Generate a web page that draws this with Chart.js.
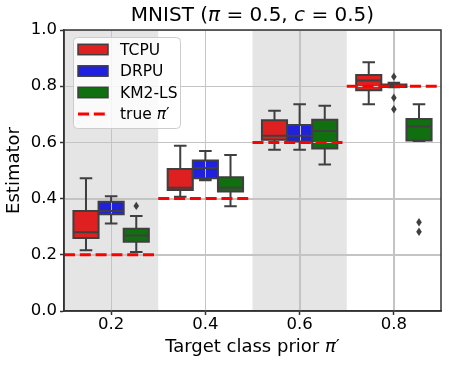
<!DOCTYPE html>
<html>
<head>
<meta charset="utf-8">
<script src="https://cdn.jsdelivr.net/npm/chart.js@4.4.0/dist/chart.umd.min.js"></script>
<style>
  html, body { margin: 0; padding: 0; background: #fff; }
</style>
</head>
<body>
<canvas id="myChart" width="449" height="366"></canvas>
<script>
// categories on the x axis (target class prior)
const categories = ['0.2', '0.4', '0.6', '0.8'];
const truePrior = [0.2, 0.4, 0.6, 0.8];
const yTicks = [0.0, 0.2, 0.4, 0.6, 0.8, 1.0];

// box stats per category: [lower whisker, q1, median, q3, upper whisker]
const tcpuStats = [
    [0.216, 0.260, 0.280, 0.356, 0.472],
    [0.407, 0.431, 0.439, 0.505, 0.588],
    [0.574, 0.609, 0.624, 0.679, 0.713],
    [0.736, 0.786, 0.820, 0.840, 0.885]
];
const drpuStats = [
    [0.311, 0.344, 0.356, 0.389, 0.408],
    [0.465, 0.472, 0.509, 0.536, 0.569],
    [0.574, 0.603, 0.624, 0.662, 0.736],
    [0.796, 0.797, 0.800, 0.806, 0.812]
];
const km2Stats = [
    [0.210, 0.246, 0.269, 0.293, 0.338],
    [0.373, 0.425, 0.439, 0.476, 0.555],
    [0.521, 0.578, 0.641, 0.681, 0.730],
    [0.605, 0.607, 0.657, 0.683, 0.736]
];

// outliers per category
const tcpuOutliers = [[], [], [], []];
const drpuOutliers = [[], [], [], [0.834, 0.759, 0.718]];
const km2Outliers = [[0.374], [], [], [0.316, 0.282]];

const FONT = "'DejaVu Sans', sans-serif";
const EDGE = '#3f3f3f';
const GRID = '#c4c4c4';
const SPINE = '#333333';
const shadedGroups = [0, 2];

// draws text made of normal / italic pieces
function drawRich(ctx, parts, x, y, size, align) {
    let total = 0;
    parts.forEach(p => {
        ctx.font = (p[1] ? 'italic ' : '') + size + 'px ' + FONT;
        p.w = ctx.measureText(p[0]).width;
        total += p.w;
    });
    let cx = align === 'center' ? x - total / 2 : x;
    ctx.textAlign = 'left';
    parts.forEach(p => {
        ctx.font = (p[1] ? 'italic ' : '') + size + 'px ' + FONT;
        ctx.fillText(p[0], cx, y);
        cx += p.w;
    });
}

// gray bands behind alternating groups
const shadePlugin = {
    id: 'shade',
    beforeDraw(chart) {
        const ctx = chart.ctx, x = chart.scales.x, area = chart.chartArea;
        const step = x.getPixelForValue(1) - x.getPixelForValue(0);
        ctx.save();
        ctx.fillStyle = '#e5e5e5';
        shadedGroups.forEach(i => {
            const c = x.getPixelForValue(i);
            ctx.fillRect(c - step / 2, area.top, step, area.bottom - area.top);
        });
        ctx.restore();
    }
};

// whiskers, medians, outliers and the true prior lines
const boxPlugin = {
    id: 'boxes',
    afterDatasetsDraw(chart) {
        const ctx = chart.ctx, x = chart.scales.x, y = chart.scales.y, area = chart.chartArea;
        const step = x.getPixelForValue(1) - x.getPixelForValue(0);
        ctx.save();

        // grid sits on top of the box fills, like in matplotlib
        ctx.strokeStyle = GRID;
        ctx.lineWidth = 1;
        ctx.beginPath();
        y.ticks.forEach(t => {
            if (t.value <= y.min || t.value >= y.max) return;
            const py = Math.round(y.getPixelForValue(t.value)) + 0.5;
            ctx.moveTo(area.left, py);
            ctx.lineTo(area.right, py);
        });
        categories.forEach((c, i) => {
            const px = Math.round(x.getPixelForValue(i)) + 0.5;
            ctx.moveTo(px, area.top);
            ctx.lineTo(px, area.bottom);
        });
        ctx.stroke();

        ctx.strokeStyle = EDGE;
        ctx.fillStyle = EDGE;
        ctx.lineWidth = 2;
        chart.data.datasets.forEach((ds, d) => {
            const meta = chart.getDatasetMeta(d);
            meta.data.forEach((bar, i) => {
                const s = ds.stats[i];
                const cx = bar.x, w = bar.width;
                const p = s.map(v => y.getPixelForValue(v));
                ctx.beginPath();
                // box outline
                ctx.rect(cx - w / 2, p[3], w, p[1] - p[3]);
                // whiskers
                ctx.moveTo(cx, p[3]); ctx.lineTo(cx, p[4]);
                ctx.moveTo(cx, p[1]); ctx.lineTo(cx, p[0]);
                // caps
                ctx.moveTo(cx - w / 4, p[4]); ctx.lineTo(cx + w / 4, p[4]);
                ctx.moveTo(cx - w / 4, p[0]); ctx.lineTo(cx + w / 4, p[0]);
                // median
                ctx.moveTo(cx - w / 2, p[2]); ctx.lineTo(cx + w / 2, p[2]);
                ctx.stroke();
                // outliers as thin diamonds
                ds.outliers[i].forEach(v => {
                    const py = y.getPixelForValue(v);
                    ctx.beginPath();
                    ctx.moveTo(cx, py - 4.2);
                    ctx.lineTo(cx + 2.8, py);
                    ctx.lineTo(cx, py + 4.2);
                    ctx.lineTo(cx - 2.8, py);
                    ctx.closePath();
                    ctx.fill();
                });
            });
        });

        // true prior dashed lines
        ctx.strokeStyle = '#ff0000';
        ctx.lineWidth = 3;
        ctx.setLineDash([11, 4.8]);
        truePrior.forEach((v, i) => {
            const c = x.getPixelForValue(i);
            const py = y.getPixelForValue(v);
            ctx.beginPath();
            ctx.moveTo(c - step / 2, py);
            ctx.lineTo(c + step / 2, py);
            ctx.stroke();
        });
        ctx.restore();
    },
    afterDraw(chart) {
        const ctx = chart.ctx, area = chart.chartArea;
        ctx.save();

        // frame
        ctx.strokeStyle = SPINE;
        ctx.lineWidth = 1.5;
        ctx.strokeRect(area.left, area.top, area.right - area.left, area.bottom - area.top);

        // legend
        const lx = 73, ly = 37, lw = 107, lh = 91;
        ctx.fillStyle = 'rgba(255,255,255,0.8)';
        ctx.strokeStyle = '#cccccc';
        ctx.lineWidth = 1;
        ctx.beginPath();
        ctx.roundRect(lx + 0.5, ly + 0.5, lw, lh, 4);
        ctx.fill();
        ctx.stroke();

        const rows = [49.5, 71, 92.5, 114];
        ctx.textBaseline = 'middle';
        chart.data.datasets.forEach((ds, d) => {
            ctx.fillStyle = ds.backgroundColor;
            ctx.fillRect(78, rows[d] - 5.2, 30, 10.4);
            ctx.strokeStyle = EDGE;
            ctx.lineWidth = 1.5;
            ctx.strokeRect(78, rows[d] - 5.2, 30, 10.4);
            ctx.fillStyle = '#000';
            drawRich(ctx, [[ds.label, false]], 120, rows[d] + 1, 15.5, 'left');
        });
        ctx.strokeStyle = '#ff0000';
        ctx.lineWidth = 3;
        ctx.setLineDash([11, 4.8]);
        ctx.beginPath();
        ctx.moveTo(78, rows[3]);
        ctx.lineTo(108, rows[3]);
        ctx.stroke();
        ctx.setLineDash([]);
        ctx.fillStyle = '#000';
        drawRich(ctx, [['true ', false], ['π', true], ['′', false]], 120, rows[3] + 1, 15.5, 'left');

        // title and axis labels
        const midX = (area.left + area.right) / 2;
        ctx.textBaseline = 'alphabetic';
        drawRich(ctx, [['MNIST (', false], ['π', true], [' = 0.5, ', false], ['c', true], [' = 0.5)', false]], midX, 21, 20, 'center');
        drawRich(ctx, [['Target class prior ', false], ['π', true], ['′', false]], midX, 352, 18, 'center');

        ctx.translate(19, (area.top + area.bottom) / 2);
        ctx.rotate(-Math.PI / 2);
        drawRich(ctx, [['Estimator', false]], 0, 0, 18, 'center');
        ctx.restore();
    }
};

const ctx = document.getElementById('myChart').getContext('2d');

function makeSet(label, color, stats, outliers) {
    return {
        label: label,
        data: stats.map(s => [s[1], s[3]]),
        stats: stats,
        outliers: outliers,
        backgroundColor: color,
        borderWidth: 0,
        categoryPercentage: 0.8,
        barPercentage: 1.0
    };
}

window.myChart = new Chart(ctx, {
    type: 'bar',
    data: {
        labels: categories,
        datasets: [
            makeSet('TCPU', '#df2020', tcpuStats, tcpuOutliers),
            makeSet('DRPU', '#2020df', drpuStats, drpuOutliers),
            makeSet('KM2-LS', '#107010', km2Stats, km2Outliers)
        ]
    },
    options: {
        responsive: false,
        animation: false,
        layout: { padding: { top: 30, right: 8, left: 0, bottom: 0 } },
        plugins: {
            legend: { display: false },
            tooltip: { enabled: false },
            title: { display: false }
        },
        scales: {
            x: {
                offset: true,
                grid: { offset: false, color: GRID, tickColor: SPINE, tickLength: 4, tickWidth: 1.5 },
                border: { color: SPINE, width: 1.5 },
                ticks: { color: '#000', font: { family: FONT, size: 16.5 }, padding: 0, maxRotation: 0 },
                afterFit(scale) { scale.height = 55; }
            },
            y: {
                min: 0,
                max: 1,
                afterBuildTicks(scale) { scale.ticks = yTicks.map(v => ({ value: v })); },
                grid: { color: GRID, tickColor: SPINE, tickLength: 4, tickWidth: 1.5 },
                border: { color: SPINE, width: 1.5 },
                ticks: {
                    color: '#000',
                    font: { family: FONT, size: 16.5 },
                    padding: 3,
                    callback: v => v.toFixed(1)
                },
                afterFit(scale) { scale.width = 64; }
            }
        }
    },
    plugins: [shadePlugin, boxPlugin]
});
</script>
</body>
</html>
